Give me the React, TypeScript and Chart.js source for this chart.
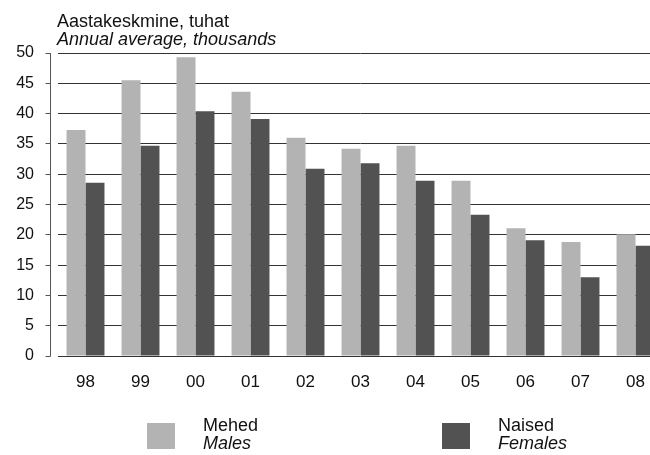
import React, { useEffect, useRef } from "react";
import { Chart, registerables } from "chart.js";

Chart.register(...registerables);

const categories = ["98", "99", "00", "01", "02", "03", "04", "05", "06", "07", "08"];
const males = [37.3, 45.5, 49.3, 43.6, 36.0, 34.2, 34.7, 28.9, 21.1, 18.8, 20.1];
const females = [28.6, 34.7, 40.4, 39.1, 30.9, 31.8, 28.9, 23.3, 19.1, 13.0, 18.2];
const seriesNames = ["Mehed", "Naised"];
const seriesNamesEn = ["Males", "Females"];
const titleLines = ["Aastakeskmine, tuhat", "Annual average, thousands"];
const yMin = 0;
const yMax = 50;
const yStep = 5;

const FONT = "'Liberation Sans', Arial, sans-serif";
const LIGHT = "#b3b3b3";
const DARK = "#525252";

const decorPlugin = {
  id: "decor",
  afterDraw(chart: any) {
    const ctx = chart.ctx;
    const area = chart.chartArea;
    const y = chart.scales.y;
    ctx.save();
    // y axis line offset to the left of the plot
    const ax = area.left - 7.5;
    ctx.strokeStyle = "#555";
    ctx.lineWidth = 1;
    ctx.beginPath();
    ctx.moveTo(ax, y.getPixelForValue(yMax));
    ctx.lineTo(ax, y.getPixelForValue(yMin) + 0.5);
    ctx.stroke();
    for (const t of y.ticks) {
      const py = Math.floor(y.getPixelForValue(t.value)) + 0.5;
      ctx.beginPath();
      ctx.moveTo(ax - 5, py);
      ctx.lineTo(ax, py);
      ctx.stroke();
    }
    // titles
    ctx.fillStyle = "#111";
    ctx.textAlign = "left";
    ctx.textBaseline = "alphabetic";
    ctx.font = `18px ${FONT}`;
    ctx.fillText(titleLines[0], area.left - 1, 27);
    ctx.font = `italic 18px ${FONT}`;
    ctx.fillText(titleLines[1], area.left - 1, 45);
    // legend
    const legendX = [147, 442];
    chart.data.datasets.forEach((ds: any, i: number) => {
      const lx = legendX[i];
      ctx.fillStyle = ds.backgroundColor;
      ctx.fillRect(lx, 423, 28, 26);
      ctx.fillStyle = "#111";
      ctx.font = `18px ${FONT}`;
      ctx.fillText(seriesNames[i], lx + 56, 431);
      ctx.font = `italic 18px ${FONT}`;
      ctx.fillText(seriesNamesEn[i], lx + 56, 449);
    });
    ctx.restore();
  },
};

export default function App() {
  const ref = useRef<HTMLCanvasElement>(null);
  useEffect(() => {
    if (!ref.current) return;
    const chart = new Chart(ref.current, {
      type: "bar",
      data: {
        labels: categories,
        datasets: [
          { label: seriesNames[0], data: males, backgroundColor: LIGHT, borderWidth: 0 },
          { label: seriesNames[1], data: females, backgroundColor: DARK, borderWidth: 0 },
        ],
      },
      options: {
        responsive: false,
        animation: false,
        devicePixelRatio: 1,
        layout: { padding: { top: 53, left: 0, right: 2, bottom: 0 } },
        plugins: { legend: { display: false }, tooltip: { enabled: false }, title: { display: false } },
        datasets: { bar: { categoryPercentage: 0.69, barPercentage: 1.0 } },
        scales: {
          x: {
            grid: { display: false, drawTicks: false },
            border: { display: false },
            ticks: { color: "#111", font: { family: FONT, size: 17 }, padding: 16, maxRotation: 0 },
            afterFit(scale: any) {
              scale.height = 99;
              scale.paddingLeft = 0;
              scale.paddingRight = 0;
            },
          },
          y: {
            min: yMin,
            max: yMax,
            ticks: { stepSize: yStep, color: "#111", font: { family: FONT, size: 16 }, padding: 24 },
            grid: { color: "#333", lineWidth: 1, drawTicks: false },
            border: { display: false },
            afterFit(scale: any) {
              scale.width = 58;
              scale.paddingTop = 0;
              scale.paddingBottom = 0;
            },
          },
        },
      },
      plugins: [decorPlugin],
    });
    return () => chart.destroy();
  }, []);
  return (
    <div style={{ position: "fixed", left: 0, top: 0, width: 650, height: 455, overflow: "hidden", background: "#fff" }}>
      <canvas ref={ref} width={665} height={455} style={{ display: "block", width: 665, height: 455 }} />
    </div>
  );
}
